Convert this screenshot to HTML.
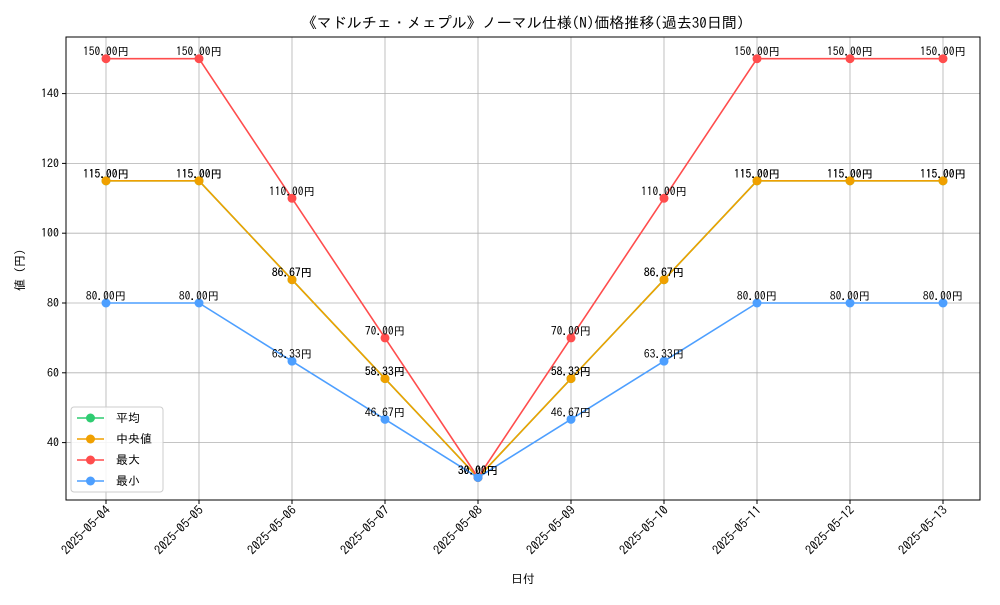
<!DOCTYPE html>
<html><head><meta charset="utf-8"><style>
body{margin:0;background:#fff;}
svg text{font-family:"IPAGothic","Liberation Sans","Noto Sans CJK JP",sans-serif;}
</style></head><body>
<svg id="chart" width="1000" height="600" xmlns="http://www.w3.org/2000/svg">
<rect width="1000" height="600" fill="#fff"/>
<text x="523" y="28" font-size="15" text-anchor="middle">《マドルチェ・メェプル》ノーマル仕様(N)価格推移(過去30日間)</text>
<g id="grid"></g>
<rect x="66" y="37" width="914" height="463" fill="none" stroke="#000" stroke-width="1"/>
<g id="axes"></g>
<g id="series"></g>
<text x="523" y="583" font-size="12" text-anchor="middle">日付</text>
<text x="24" y="270" font-size="12" text-anchor="middle" transform="rotate(-90 24 270)">値 (円)</text>
<g id="legend"></g>
</svg>
<script>
const dates=["2025-05-04","2025-05-05","2025-05-06","2025-05-07","2025-05-08","2025-05-09","2025-05-10","2025-05-11","2025-05-12","2025-05-13"];
const avgVals=[115,115,86.67,58.33,30,58.33,86.67,115,115,115];
const medVals=[115,115,86.67,58.33,30,58.33,86.67,115,115,115];
const maxVals=[150,150,110,70,30,70,110,150,150,150];
const minVals=[80,80,63.33,46.67,30,46.67,63.33,80,80,80];
const yTicks=[40,60,80,100,120,140];
const seriesNames=["平均","中央値","最大","最小"];
const NS="http://www.w3.org/2000/svg";
function xs(i){return 106+i*(943-106)/(dates.length-1);}
function ys(v){return 303-(v-80)*3.49;}
function mk(tag,attrs,parent){const e=document.createElementNS(NS,tag);for(const k in attrs)e.setAttribute(k,attrs[k]);parent.appendChild(e);return e;}
const grid=document.getElementById('grid'),axes=document.getElementById('axes'),ser=document.getElementById('series'),leg=document.getElementById('legend');
dates.forEach((d,i)=>{
 const x=xs(i);
 const g=mk('line',{x1:x,x2:x,y1:37,y2:500,stroke:'#b0b0b0','stroke-width':0.8},grid);
 
 
 mk('line',{x1:x,x2:x,y1:500,y2:504,stroke:'#000'},axes);
 const t=mk('text',{x:x+5,y:511,'font-size':12.5,'text-anchor':'end',transform:`rotate(-45 ${x+5} 511)`},axes);
 t.textContent=d;
 
 
});
yTicks.forEach(v=>{
 const y=ys(v);
 const g=mk('line',{x1:66,x2:980,y1:y,y2:y,stroke:'#b0b0b0','stroke-width':0.8},grid);
 
 
 mk('line',{x1:62,x2:66,y1:y,y2:y,stroke:'#000'},axes);
 const t=mk('text',{x:59,y:y+4,'font-size':12,'text-anchor':'end'},axes);
 t.textContent=v;
 
 
});
const all=[[avgVals,'#2ecc71','avg'],[medVals,'#f0a000','median'],[maxVals,'#ff4d4d','max'],[minVals,'#4d9fff','min']];
all.forEach(([vals,c,n])=>{
 const g=mk('g',{},ser);
 
 
 const p=mk('polyline',{points:vals.map((v,i)=>xs(i)+','+ys(v)).join(' '),fill:'none',stroke:c,'stroke-width':1.6},g);
 
 
 vals.forEach((v,i)=>{
  const m=mk('circle',{cx:xs(i),cy:ys(v),r:4.5,fill:c},g);
  
  
  const t=mk('text',{x:xs(i),y:ys(v)-3,'font-size':11.5,'text-anchor':'middle'},g);
  t.textContent=v.toFixed(2)+'円';
  
  
 });
});
mk('rect',{x:71,y:407,width:92,height:85,fill:'#fff','fill-opacity':0.85,stroke:'#ccc',rx:3},leg);
all.forEach(([v,c,n],i)=>{
 const y=418+i*21;
 const e=mk('g',{},leg);
 
 
 mk('line',{x1:77,x2:104,y1:y,y2:y,stroke:c,'stroke-width':1.6},e);
 mk('circle',{cx:90.5,cy:y,r:4.5,fill:c},e);
 const t=mk('text',{x:116,y:y+4,'font-size':12},e);
 t.textContent=seriesNames[i];
});
</script>
</body></html>
